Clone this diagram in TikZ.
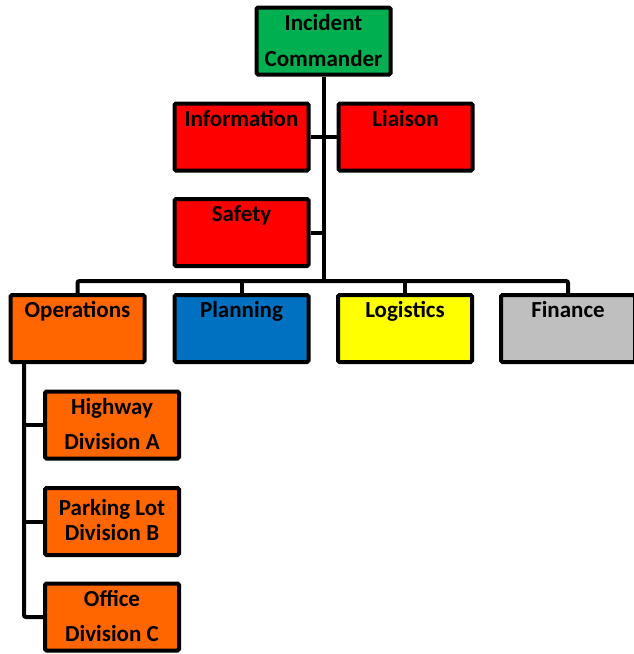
\documentclass[tikz,border=0pt]{standalone}
\usepackage{fontspec}
\setmainfont{Carlito}
\usepackage{tikz}
\usetikzlibrary{calc}

\definecolor{icgreen}{RGB}{0,176,80}
\definecolor{stafred}{RGB}{255,0,0}
\definecolor{opsorange}{RGB}{255,102,0}
\definecolor{planblue}{RGB}{0,112,192}
\definecolor{logyellow}{RGB}{255,255,0}
\definecolor{fingray}{RGB}{191,191,191}

\newcommand{\boxtext}[1]{\parbox[t][54pt][t]{134pt}{\centering #1}}

\begin{document}
\begin{tikzpicture}
      [
        x=1pt, y=-1pt,
        orgbox/.style={draw=black, line width=4pt, rounded corners=1.5pt,
          minimum width=134pt, minimum height=67pt, inner sep=0pt,
          font=\fontsize{23}{28}\selectfont\bfseries},
        link/.style={draw=black, line width=4pt, rounded corners=2pt}
      ]
      \useasboundingbox (0,0) rectangle (634,654);
      % command and staff
      \node [orgbox, fill=icgreen] (ic) at (323.5,41) {\boxtext{Incident\\[8pt]Commander}};
      \node [orgbox, fill=stafred] (info) at (241.5,137) {\boxtext{Information}};
      \node [orgbox, fill=stafred] (liaison) at (405.5,137) {\boxtext{Liaison}};
      \node [orgbox, fill=stafred] (safety) at (241.5,232.5) {\boxtext{Safety}};
      % sections
      \node [orgbox, fill=opsorange] (ops) at (77.5,328.5) {\boxtext{Operations}};
      \node [orgbox, fill=planblue] (plan) at (241.5,328.5) {\boxtext{Planning}};
      \node [orgbox, fill=logyellow] (logi) at (405,328.5) {\boxtext{Logistics}};
      \node [orgbox, fill=fingray] (fin) at (568,328.5) {\boxtext{Finance}};
      % divisions
      \node [orgbox, fill=opsorange] (hwy) at (112,425) {\boxtext{Highway\\[7pt]Division A}};
      \node [orgbox, fill=opsorange] (park) at (112,521.5) {\boxtext{\vspace{5pt}Parking Lot\\[-3pt]Division B}};
      \node [orgbox, fill=opsorange] (office) at (112,617) {\boxtext{Office\\[7pt]Division C}};
      % edges
      \coordinate (bus) at (0,281);
      \coordinate (spine) at (24,364);
      \draw [link] (ic.south) -- (ic.south |- bus);
      \draw [link] (info.east) -- (liaison.west);
      \draw [link] (safety.east) -- (safety.east -| ic.south);
      \draw [link] (ops.north) |- (fin.north |- bus) -- (fin.north);
      \draw [link] (plan.north) -- (plan.north |- bus);
      \draw [link] (logi.north) -- (logi.north |- bus);
      \draw [link] (spine) |- (office.west);
      \draw [link] (hwy.west -| spine) -- (hwy.west);
      \draw [link] (park.west -| spine) -- (park.west);
    \end{tikzpicture}
\end{document}
